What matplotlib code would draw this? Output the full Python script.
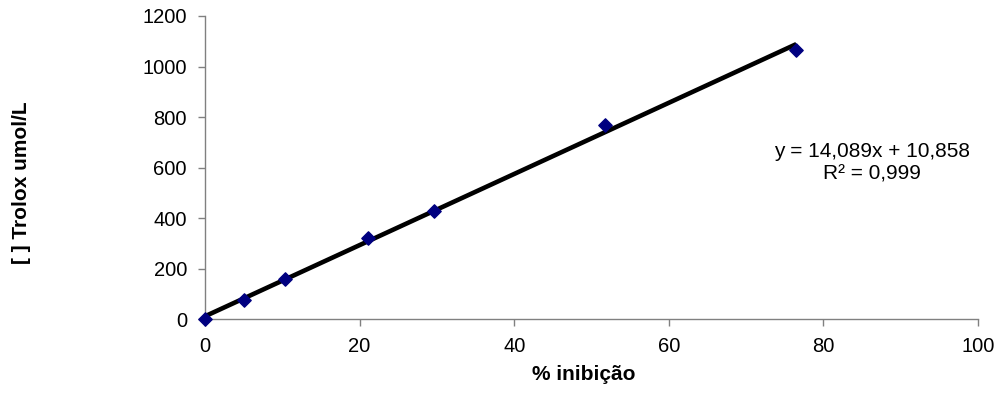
import matplotlib
matplotlib.use("Agg")
import matplotlib.pyplot as plt
import numpy as np

plt.rcParams['font.family'] = ['Liberation Sans', 'DejaVu Sans']

# Calibration data: % inhibition vs Trolox concentration
inhibition = [0.0, 5.0, 10.3, 21.1, 29.6, 51.7, 76.5]
trolox = [0, 75, 158, 321, 428, 768, 1065]

# Linear trendline coefficients
slope = 14.089
intercept = 10.858
r2 = 0.999

x_ticks = [0, 20, 40, 60, 80, 100]
y_ticks = [0, 200, 400, 600, 800, 1000, 1200]

fig = plt.figure(figsize=(10.01, 3.96), dpi=100)
ax = fig.add_axes([0.2048, 0.1944, 0.7722, 0.7652])

xs = np.array([0.0, max(inhibition)])
ax.plot(xs, slope * xs + intercept, color='black', lw=3.3, zorder=2,
        solid_capstyle='butt')
ax.scatter(inhibition, trolox, marker='D', s=46, color='#000080',
           edgecolors='#000080', zorder=3, clip_on=False)

ax.set_xlim(0, 100)
ax.set_ylim(0, 1200)
ax.set_xticks(x_ticks)
ax.set_yticks(y_ticks)

for side in ('top', 'right'):
    ax.spines[side].set_visible(False)
for side in ('left', 'bottom'):
    ax.spines[side].set_color('#808080')
    ax.spines[side].set_linewidth(1.0)

ax.tick_params(axis='both', direction='out', length=5, width=1.0,
               color='#808080', labelsize=14.5, labelcolor='black', pad=8)

ax.set_xlabel('% inibição', fontsize=15, fontweight='bold')
ax.xaxis.set_label_coords(0.49, -0.152)
ax.set_ylabel('[ ] Trolox umol/L', fontsize=15, fontweight='bold')
ax.yaxis.set_label_coords(-0.225, 0.45)

ax.text(0.863, 0.554, f'y = {slope:.3f}x + {intercept:.3f}'.replace('.', ','),
        transform=ax.transAxes, ha='center', va='center', fontsize=15)
ax.text(0.863, 0.479, f'R² = {r2:.3f}'.replace('.', ','),
        transform=ax.transAxes, ha='center', va='center', fontsize=15)

fig.savefig('out.png', dpi=100)
